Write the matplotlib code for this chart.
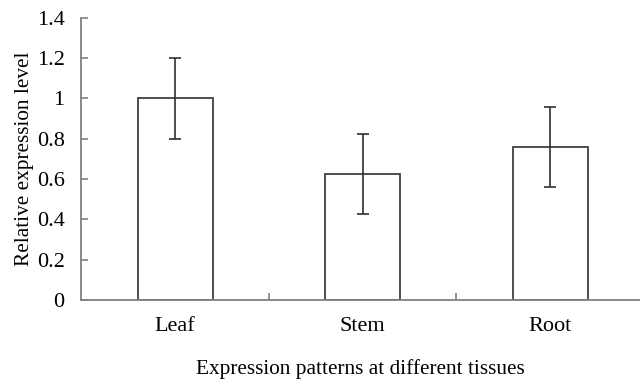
import matplotlib
matplotlib.use("Agg")
import matplotlib.pyplot as plt
from matplotlib.ticker import FixedLocator

categories = ["Leaf", "Stem", "Root"]
values = [1.0, 0.625, 0.76]
errors = [0.2, 0.2, 0.2]
yticks = [0, 0.2, 0.4, 0.6, 0.8, 1.0, 1.2, 1.4]
ytick_labels = ["0", "0.2", "0.4", "0.6", "0.8", "1", "1.2", "1.4"]

plt.rcParams['font.family'] = ['Liberation Serif', 'DejaVu Serif']

fig = plt.figure(figsize=(6.4, 3.8), dpi=100)
ax = fig.add_axes([0.127, 0.2105, 0.873, 0.7425])

x = list(range(len(categories)))
ax.bar(x, values, width=0.4, color="white", edgecolor="#404040", linewidth=1.3,
       yerr=errors, error_kw=dict(ecolor="#303030", elinewidth=1.2, capsize=4, capthick=1.2))

ax.set_xlim(-0.5, 2.48)
ax.set_ylim(0, 1.4)
ax.set_yticks(yticks)
ax.set_yticklabels(ytick_labels, fontsize=16)
ax.set_xticks(x)
ax.set_xticklabels(categories, fontsize=16)
ax.xaxis.set_minor_locator(FixedLocator([0.5, 1.5]))
ax.tick_params(axis='x', which='major', length=0, pad=12)
ax.tick_params(axis='x', which='minor', direction='in', length=5, color="#808080", width=1.2)
ax.tick_params(axis='y', direction='in', length=5, color="#808080", width=1.2, pad=12)

for s in ["top", "right"]:
    ax.spines[s].set_visible(False)
for s in ["left", "bottom"]:
    ax.spines[s].set_color("#808080")
    ax.spines[s].set_linewidth(1.3)

ax.set_ylabel("Relative expression level", fontsize=15.3, labelpad=2)
ax.set_xlabel("Expression patterns at different tissues", fontsize=15.3, labelpad=17)

fig.savefig("out.png", dpi=100)
